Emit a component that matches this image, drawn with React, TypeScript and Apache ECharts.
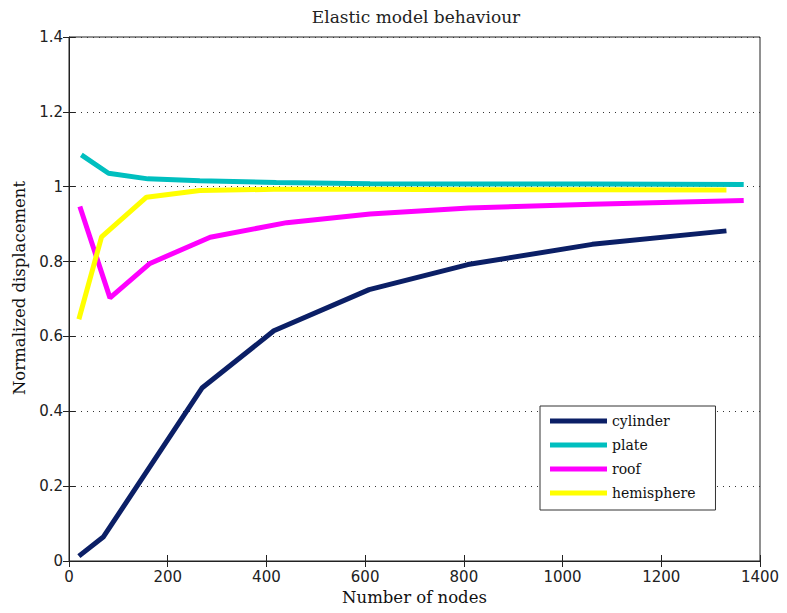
import React, { useEffect, useRef } from "react";
import * as echarts from "echarts";

const titleText = "Elastic model behaviour";
const xName = "Number of nodes";
const yName = "Normalized displacement";

const seriesNames = ["cylinder", "plate", "roof", "hemisphere"];
const seriesColors = ["#0b1f66", "#00bfbf", "#ff00ff", "#ffff00"];

const cylinderX = [20, 70, 270, 415, 608, 808, 1060, 1332];
const cylinderY = [0.013, 0.065, 0.463, 0.615, 0.725, 0.792, 0.846, 0.882];

const plateX = [25, 80, 160, 265, 420, 610, 810, 1060, 1367];
const plateY = [1.085, 1.036, 1.021, 1.016, 1.011, 1.008, 1.007, 1.007, 1.006];

const roofX = [22, 83, 164, 286, 441, 610, 810, 1060, 1367];
const roofY = [0.947, 0.703, 0.795, 0.865, 0.904, 0.927, 0.943, 0.953, 0.963];

const hemiX = [20, 66, 157, 265, 415, 608, 808, 1060, 1332];
const hemiY = [0.646, 0.866, 0.972, 0.99, 0.993, 0.993, 0.992, 0.992, 0.991];

const xMin = 0;
const xMax = 1400;
const xStep = 200;
const yMin = 0;
const yMax = 1.4;
const yStep = 0.2;

function pairs(xs: number[], ys: number[]) {
  return xs.map((x, i) => [x, ys[i]]);
}

export default function App() {
  const ref = useRef<HTMLDivElement>(null);
  useEffect(() => {
    if (!ref.current) return;
    const chart = echarts.init(ref.current, undefined, { renderer: "svg" });
    const allData = [
      pairs(cylinderX, cylinderY),
      pairs(plateX, plateY),
      pairs(roofX, roofY),
      pairs(hemiX, hemiY),
    ];
    const tickFont = { fontFamily: "DejaVu Sans", fontSize: 15, color: "#222" };
    const serif = "DejaVu Serif";
    chart.setOption({
      animation: false,
      backgroundColor: "#ffffff",
      graphic: [
        {
          type: "text",
          x: 416,
          y: 17,
          style: {
            text: titleText,
            fontFamily: serif,
            fontSize: 17,
            fill: "#222",
            align: "center",
            verticalAlign: "middle",
          },
        },
      ],
      grid: {
        left: 69,
        right: 27,
        top: 37,
        bottom: 52,
        show: true,
        borderColor: "#222",
        borderWidth: 1,
        backgroundColor: "transparent",
      },
      legend: {
        orient: "vertical",
        left: 540,
        top: 406,
        icon: "rect",
        itemWidth: 57,
        itemHeight: 5,
        itemGap: 8,
        padding: [7, 20, 9, 10],
        backgroundColor: "#ffffff",
        borderColor: "#333",
        borderWidth: 1,
        textStyle: { fontFamily: serif, fontSize: 14, color: "#111", lineHeight: 16 },
        data: seriesNames,
      },
      xAxis: [
        {
          type: "value",
          min: xMin,
          max: xMax,
          interval: xStep,
          name: xName,
          nameLocation: "middle",
          nameGap: 26,
          nameTextStyle: { fontFamily: serif, fontSize: 16.5, color: "#111" },
          axisLine: { show: true, lineStyle: { color: "#222" } },
          axisTick: { show: true, inside: true, length: 6, lineStyle: { color: "#222" } },
          axisLabel: { ...tickFont, margin: 8, formatter: (v: number) => String(v) },
          splitLine: { show: false },
        },
        {
          type: "value",
          position: "top",
          min: xMin,
          max: xMax,
          interval: xStep,
          axisLine: { show: false },
          axisTick: { show: true, inside: true, length: 6, lineStyle: { color: "#222" } },
          axisLabel: { show: false },
          splitLine: { show: false },
        },
      ],
      yAxis: [
        {
          type: "value",
          min: yMin,
          max: yMax,
          interval: yStep,
          name: yName,
          nameLocation: "middle",
          nameGap: 41,
          nameTextStyle: { fontFamily: serif, fontSize: 16.5, color: "#111", padding: [0, 0, 0, 22] },
          axisLine: { show: true, lineStyle: { color: "#222" } },
          axisTick: { show: true, inside: true, length: 6, lineStyle: { color: "#222" } },
          axisLabel: { ...tickFont, margin: 6 },
          splitLine: { show: true, lineStyle: { color: "#333", type: [1, 5], width: 1 } },
        },
        {
          type: "value",
          position: "right",
          min: yMin,
          max: yMax,
          interval: yStep,
          axisLine: { show: false },
          axisTick: { show: true, inside: true, length: 6, lineStyle: { color: "#222" } },
          axisLabel: { show: false },
          splitLine: { show: false },
        },
      ],
      series: seriesNames.map((name, i) => ({
        name,
        type: "line",
        xAxisIndex: 0,
        yAxisIndex: 0,
        data: allData[i],
        showSymbol: false,
        symbol: "none",
        lineStyle: { color: seriesColors[i], width: 5 },
        itemStyle: { color: seriesColors[i] },
      })),
    });
    return () => chart.dispose();
  }, []);
  return <div ref={ref} style={{ width: 787, height: 613, position: "absolute", left: 0, top: 0 }} />;
}
